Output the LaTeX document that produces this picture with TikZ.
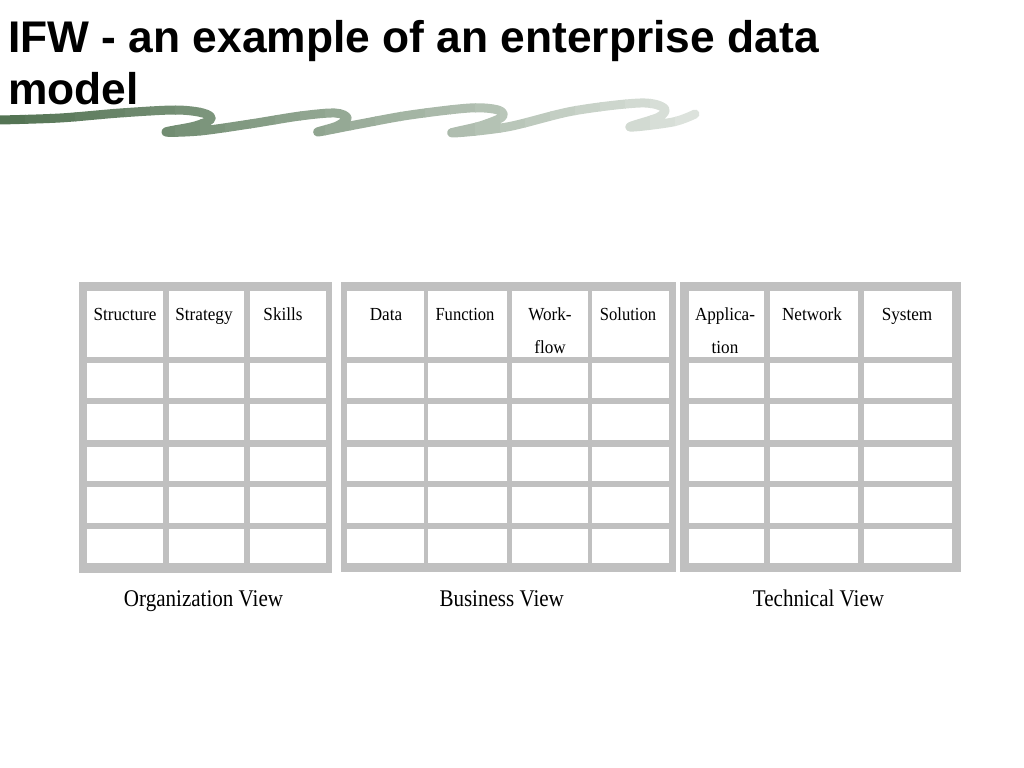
\documentclass[tikz,border=0pt]{standalone}
\usepackage{fontspec}
\usepackage{graphicx}
\setmainfont{Liberation Serif}
\newfontfamily\titlefont{Liberation Sans}
\definecolor{gridgray}{RGB}{192,192,192}
\definecolor{wavedark}{RGB}{84,116,84}
\definecolor{wavelight}{RGB}{232,236,232}
\def\rowlist{291/357,363/398,404/440,447/481,487/523,529/563}
\tikzset{
  hdr/.style={anchor=base, inner sep=0pt, align=center, font=\fontsize{18.5}{33}\selectfont},
  viewlbl/.style={anchor=base, inner sep=0pt, font=\fontsize{24}{26}\selectfont},
  wavepath/.style={insert path={plot[smooth,tension=0.55] coordinates {(0,120) (60,118) (120,113) (175,110) (203,113) (211,119) (195,126) (166,132) (200,131) (250,124) (300,116) (335,113) (347,118) (337,126) (318,132) (360,124) (410,115) (470,108) (498,110) (502,117) (480,126) (452,133) (507,127) (573,111) (640,103) (664,108) (659,117) (630,127) (673,122) (695,114)}}}
}
\begin{document}
\begin{tikzpicture}[x=1bp,y=-1bp]
    \useasboundingbox (0,0) rectangle (1024,768);
    % titre (base = derniere ligne)
    \node[anchor=base west, inner sep=0pt, align=left, font=\titlefont\bfseries\fontsize{44.5}{51.6}\selectfont] (title) at (8,104.3) {IFW - an example of an enterprise data\\model};
    % vague verte
    \foreach \i in {0,...,28} {
        \pgfmathsetmacro\mix{100-\i*3.4}
        \begin{scope}
            \clip (\i*25,85) rectangle ++(26,60);
            \draw[wavedark!\mix!wavelight, line width=9bp, line cap=round, line join=round, wavepath];
        \end{scope}
    }
    % Organization View
    \fill[gridgray] (79,282) rectangle (332,573);
    \foreach \xa/\xb in {87/163,169/244,250/326}
        \foreach \ya/\yb in \rowlist
            \fill[white] (\xa,\ya) rectangle (\xb,\yb);
    % Business View
    \fill[gridgray] (341,282) rectangle (676,572);
    \foreach \xa/\xb in {347/424,428/507,512/588,592/669}
        \foreach \ya/\yb in \rowlist
            \fill[white] (\xa,\ya) rectangle (\xb,\yb);
    % Technical View
    \fill[gridgray] (680,282) rectangle (961,572);
    \foreach \xa/\xb in {689/764,770/858,864/952}
        \foreach \ya/\yb in \rowlist
            \fill[white] (\xa,\ya) rectangle (\xb,\yb);
    % en-tetes
    \node[hdr] (structure) at (125,320) {\scalebox{0.93}[1]{Structure}};
    \node[hdr] (strategy) at (204,320) {\scalebox{0.93}[1]{Strategy}};
    \node[hdr] (skills) at (283,320) {\scalebox{0.93}[1]{Skills}};
    \node[hdr] (data) at (386,320) {\scalebox{0.93}[1]{Data}};
    \node[hdr] (function) at (465,320) {\scalebox{0.9}[1]{Function}};
    \node[hdr] (workflow) at (550,353) {\scalebox{0.93}[1]{Work-}\\\scalebox{0.93}[1]{flow}};
    \node[hdr] (solution) at (628,320) {\scalebox{0.9}[1]{Solution}};
    \node[hdr] (application) at (725,353) {\scalebox{0.93}[1]{Applica-}\\\scalebox{0.93}[1]{tion}};
    \node[hdr] (network) at (812,320) {\scalebox{0.93}[1]{Network}};
    \node[hdr] (system) at (907,320) {\scalebox{0.93}[1]{System}};
    % vues
    \node[viewlbl] (orgview) at (203.5,606) {\scalebox{0.88}[1]{Organization View}};
    \node[viewlbl] (busview) at (501.7,606) {\scalebox{0.88}[1]{Business View}};
    \node[viewlbl] (techview) at (818.5,606) {\scalebox{0.88}[1]{Technical View}};
\end{tikzpicture}
\end{document}
